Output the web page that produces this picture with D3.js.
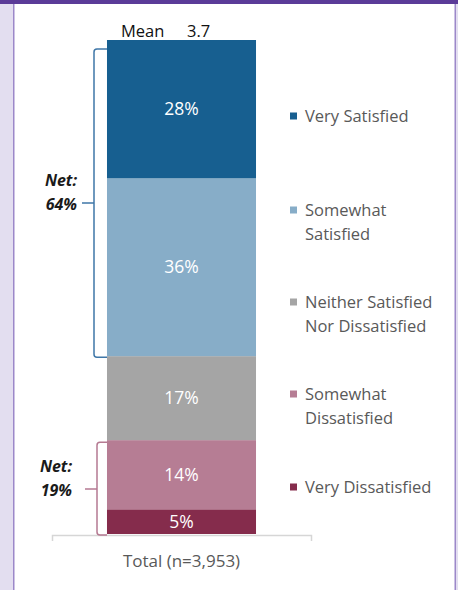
<!DOCTYPE html>
<html><head><meta charset="utf-8">
<script src="https://cdn.jsdelivr.net/npm/d3@7"></script>
<style>html,body{margin:0;padding:0;background:#fff;}svg{display:block;}text{font-variant-ligatures:none;}</style>
</head><body>
<svg id="c" width="458" height="590"></svg>
<script>
const categories = ["Total (n=3,953)"];
const series = ["Very Dissatisfied","Somewhat Dissatisfied","Neither Satisfied Nor Dissatisfied","Somewhat Satisfied","Very Satisfied"];
const values = [5, 14, 17, 36, 28];
const colors = ["#852c4c","#b67d94","#a5a5a5","#87adc8","#175f90"];
const legendLines = [["Very Dissatisfied"],["Somewhat","Dissatisfied"],["Neither Satisfied","Nor Dissatisfied"],["Somewhat","Satisfied"],["Very Satisfied"]];
const legendY = [487, 394, 302, 210, 116];
const nets = [{label:"64%", from:36, to:100, color:"#3f77a8"},{label:"19%", from:0, to:19, color:"#b57a92"}];
const meanLabel = "Mean", meanValue = "3.7";

const svg = d3.select("#c");
const font = "'Open Sans', Lato, sans-serif";

// frame
svg.append("rect").attr("x",0).attr("y",0).attr("width",458).attr("height",590).attr("fill","#fff");
svg.append("rect").attr("x",0).attr("y",0).attr("width",13).attr("height",590).attr("fill","#e3def0");
svg.append("rect").attr("x",13).attr("y",0).attr("width",1.5).attr("height",590).attr("fill","#9c88c9");
svg.append("rect").attr("x",456).attr("y",0).attr("width",2).attr("height",590).attr("fill","#e3def0");
svg.append("rect").attr("x",454.5).attr("y",0).attr("width",1.5).attr("height",590).attr("fill","#9c88c9");
svg.append("rect").attr("x",0).attr("y",0).attr("width",458).attr("height",4).attr("fill","#5b3b98");

const x = d3.scaleBand().domain(categories).range([52,311]).paddingInner(0).paddingOuter(0.369);
const y = d3.scaleLinear().domain([0,100]).range([534,40]);

let cum = 0;
const stack = values.map((v,i)=>{const s={v, y0:cum, y1:cum+v, c:colors[i]}; cum+=v; return s;});

const g = svg.append("g");
g.selectAll("rect.seg").data(stack).enter().append("rect")
  .attr("x", x(categories[0])).attr("width", x.bandwidth())
  .attr("y", d=>y(d.y1)).attr("height", d=>y(d.y0)-y(d.y1))
  .attr("fill", d=>d.c);
g.selectAll("text.seg").data(stack).enter().append("text")
  .attr("x", x(categories[0])+x.bandwidth()/2)
  .attr("y", d=>(y(d.y0)+y(d.y1))/2)
  .attr("dy","0.35em").attr("text-anchor","middle")
  .attr("fill","#fff").attr("font-family",font).attr("font-size",17.5)
  .text(d=>d.v+"%");

// axis
const ax = svg.append("g").attr("transform","translate(0,535)")
  .call(d3.axisBottom(x).tickSizeInner(0).tickSizeOuter(6).tickPadding(20));
ax.select(".domain").attr("stroke","#d6d6d6").attr("stroke-width",1.5);
ax.selectAll("text").attr("font-family",font).attr("font-size",17).attr("fill","#595959");

// mean
svg.append("text").attr("x",121).attr("y",37).attr("font-family",font).attr("font-size",16.5).attr("fill","#111")
  .text(meanLabel);
svg.append("text").attr("x",187).attr("y",37).attr("font-family",font).attr("font-size",16.5).attr("fill","#111")
  .text(meanValue);

// brackets
const bx = [94, 97];
const tx = [77, 72];
nets.forEach((n,i)=>{
  const top = i===0 ? y(n.to)+9 : y(n.to)+2;
  const bot = y(n.from)+1;
  const xv = bx[i], xr = 107;
  const mid = i===0 ? 203 : 489;
  const p = d3.path();
  p.moveTo(xr, top); p.lineTo(xv+3, top); p.quadraticCurveTo(xv, top, xv, top+3);
  p.lineTo(xv, bot-3); p.quadraticCurveTo(xv, bot, xv+3, bot); p.lineTo(xr, bot);
  p.moveTo(xv, mid); p.lineTo(xv-12, mid);
  svg.append("path").attr("d", p.toString()).attr("fill","none").attr("stroke",n.color).attr("stroke-width",1.5);
  svg.append("text").attr("x",tx[i]).attr("y",mid-23).attr("dy","0.35em").attr("text-anchor","end")
    .attr("font-family",font).attr("font-size",16).attr("font-weight","bold").attr("font-style","italic").attr("fill","#1a1a1a").text("Net:");
  svg.append("text").attr("x",tx[i]).attr("y",mid+1).attr("dy","0.35em").attr("text-anchor","end")
    .attr("font-family",font).attr("font-size",16).attr("font-weight","bold").attr("font-style","italic").attr("fill","#1a1a1a").text(n.label);
});

// legend
const lg = svg.append("g");
series.forEach((s,i)=>{
  lg.append("rect").attr("x",290).attr("y",legendY[i]-3.5).attr("width",7).attr("height",7).attr("fill",colors[i]);
  legendLines[i].forEach((ln,j)=>{
    lg.append("text").attr("x",305).attr("y",legendY[i]+j*24).attr("dy","0.35em")
      .attr("font-family",font).attr("font-size",16.5).attr("fill","#595959").text(ln);
  });
});
</script>
</body></html>
